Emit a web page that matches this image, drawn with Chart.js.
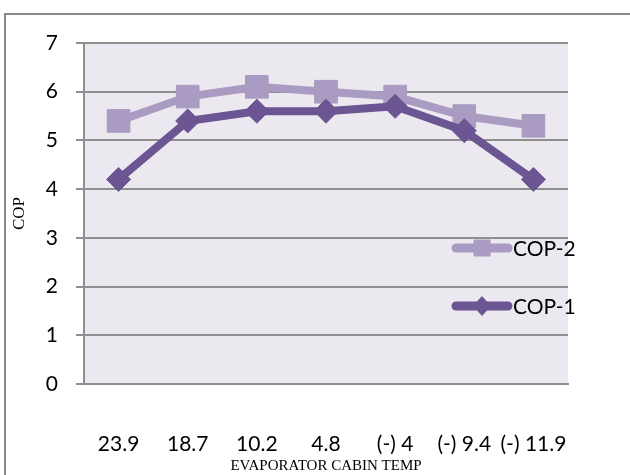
<!DOCTYPE html>
<html>
<head>
<meta charset="utf-8">
<script src="https://cdn.jsdelivr.net/npm/chart.js@4.4.1/dist/chart.umd.min.js"></script>
<style>
  html, body { margin: 0; padding: 0; background: #fff; overflow: hidden; }
  #frame { position: absolute; left: 4px; top: 13px; width: 700px; height: 600px;
           border-left: 2px solid #8a8a8a; border-top: 2px solid #8a8a8a; }
  #wrap { position: absolute; left: 0; top: 0; width: 630px; height: 475px; }
</style>
</head>
<body>
<div id="frame"></div>
<div id="wrap"><canvas id="c" width="630" height="475"></canvas></div>
<script>
// Evaporator cabin temperature categories and COP readings
const categories = ['23.9', '18.7', '10.2', '4.8', '(-) 4', '(-) 9.4', '(-) 11.9'];
const cop1 = [4.2, 5.4, 5.6, 5.6, 5.7, 5.2, 4.2];
const cop2 = [5.4, 5.9, 6.1, 6.0, 5.9, 5.5, 5.3];
const yTicks = [0, 1, 2, 3, 4, 5, 6, 7];

const COLOR_1 = '#6b5592';
const COLOR_2 = '#a99bc1';
const GRID = '#8f8f8f';
const SANS = 'Lato, "Open Sans", sans-serif';
const SERIF = '"Liberation Serif", "Times New Roman", serif';

// Lavender plot background
const plotBg = {
  id: 'plotBg',
  beforeDraw(chart) {
    const { ctx, chartArea: a } = chart;
    ctx.save();
    ctx.fillStyle = '#ebe9ef';
    ctx.fillRect(a.left, a.top, a.right - a.left, a.bottom - a.top);
    ctx.restore();
  }
};

// Legend drawn inside the plot, on the right
const innerLegend = {
  id: 'innerLegend',
  afterDraw(chart) {
    const { ctx } = chart;
    const ds = chart.data.datasets.slice().reverse();
    const rows = [248, 306];
    ctx.save();
    ds.forEach((d, i) => {
      const y = rows[i];
      ctx.strokeStyle = d.borderColor;
      ctx.lineWidth = 9;
      ctx.lineCap = 'round';
      ctx.beginPath();
      ctx.moveTo(456, y);
      ctx.lineTo(508, y);
      ctx.stroke();
      ctx.fillStyle = d.borderColor;
      ctx.beginPath();
      if (d.pointStyle === 'rect') {
        ctx.rect(482 - 8.5, y - 8.5, 17, 17);
      } else {
        ctx.moveTo(482, y - 10); ctx.lineTo(491, y); ctx.lineTo(482, y + 10); ctx.lineTo(473, y);
        ctx.closePath();
      }
      ctx.fill();
      ctx.fillStyle = '#000';
      ctx.font = '21px ' + SANS;
      ctx.textBaseline = 'middle';
      ctx.textAlign = 'left';
      ctx.fillText(d.label, 513, y + 1);
    });
    ctx.restore();
  }
};

new Chart(document.getElementById('c'), {
  type: 'line',
  data: {
    labels: categories,
    datasets: [
      {
        label: 'COP-1',
        data: cop1,
        borderColor: COLOR_1,
        backgroundColor: COLOR_1,
        borderWidth: 8,
        pointStyle: 'rectRot',
        pointRadius: 12,
        pointBorderWidth: 1,
        tension: 0
      },
      {
        label: 'COP-2',
        data: cop2,
        borderColor: COLOR_2,
        backgroundColor: COLOR_2,
        borderWidth: 8,
        pointStyle: 'rect',
        pointRadius: 16,
        pointBorderWidth: 1,
        tension: 0
      }
    ]
  },
  options: {
    responsive: false,
    animation: false,
    events: [],
    layout: { padding: { left: 0, top: 43, right: 62, bottom: 0 } },
    plugins: { legend: { display: false }, tooltip: { enabled: false } },
    scales: {
      x: {
        offset: true,
        grid: { display: false },
        border: { display: true, color: GRID, width: 2 },
        ticks: { color: '#000', font: { family: SANS, size: 21 }, padding: 40, maxRotation: 0, autoSkip: false },
        title: { display: true, text: 'EVAPORATOR CABIN TEMP', color: '#000',
                 font: { family: SERIF, size: 15 }, padding: { top: 3, bottom: 0 } },
        afterFit(s) { s.height = 91; }
      },
      y: {
        min: 0,
        max: 7,
        afterBuildTicks(s) { s.ticks = yTicks.map(v => ({ value: v })); },
        grid: { color: GRID, lineWidth: 2, tickLength: 8, drawTicks: true },
        border: { display: true, color: GRID, width: 2 },
        ticks: { color: '#000', font: { family: SANS, size: 21 }, padding: 18 },
        title: { display: true, text: 'COP', color: '#000',
                 font: { family: SERIF, size: 17 }, padding: { top: 9, bottom: 0 } },
        afterFit(s) { s.width = 84; }
      }
    }
  },
  plugins: [plotBg, innerLegend]
});
</script>
</body>
</html>
